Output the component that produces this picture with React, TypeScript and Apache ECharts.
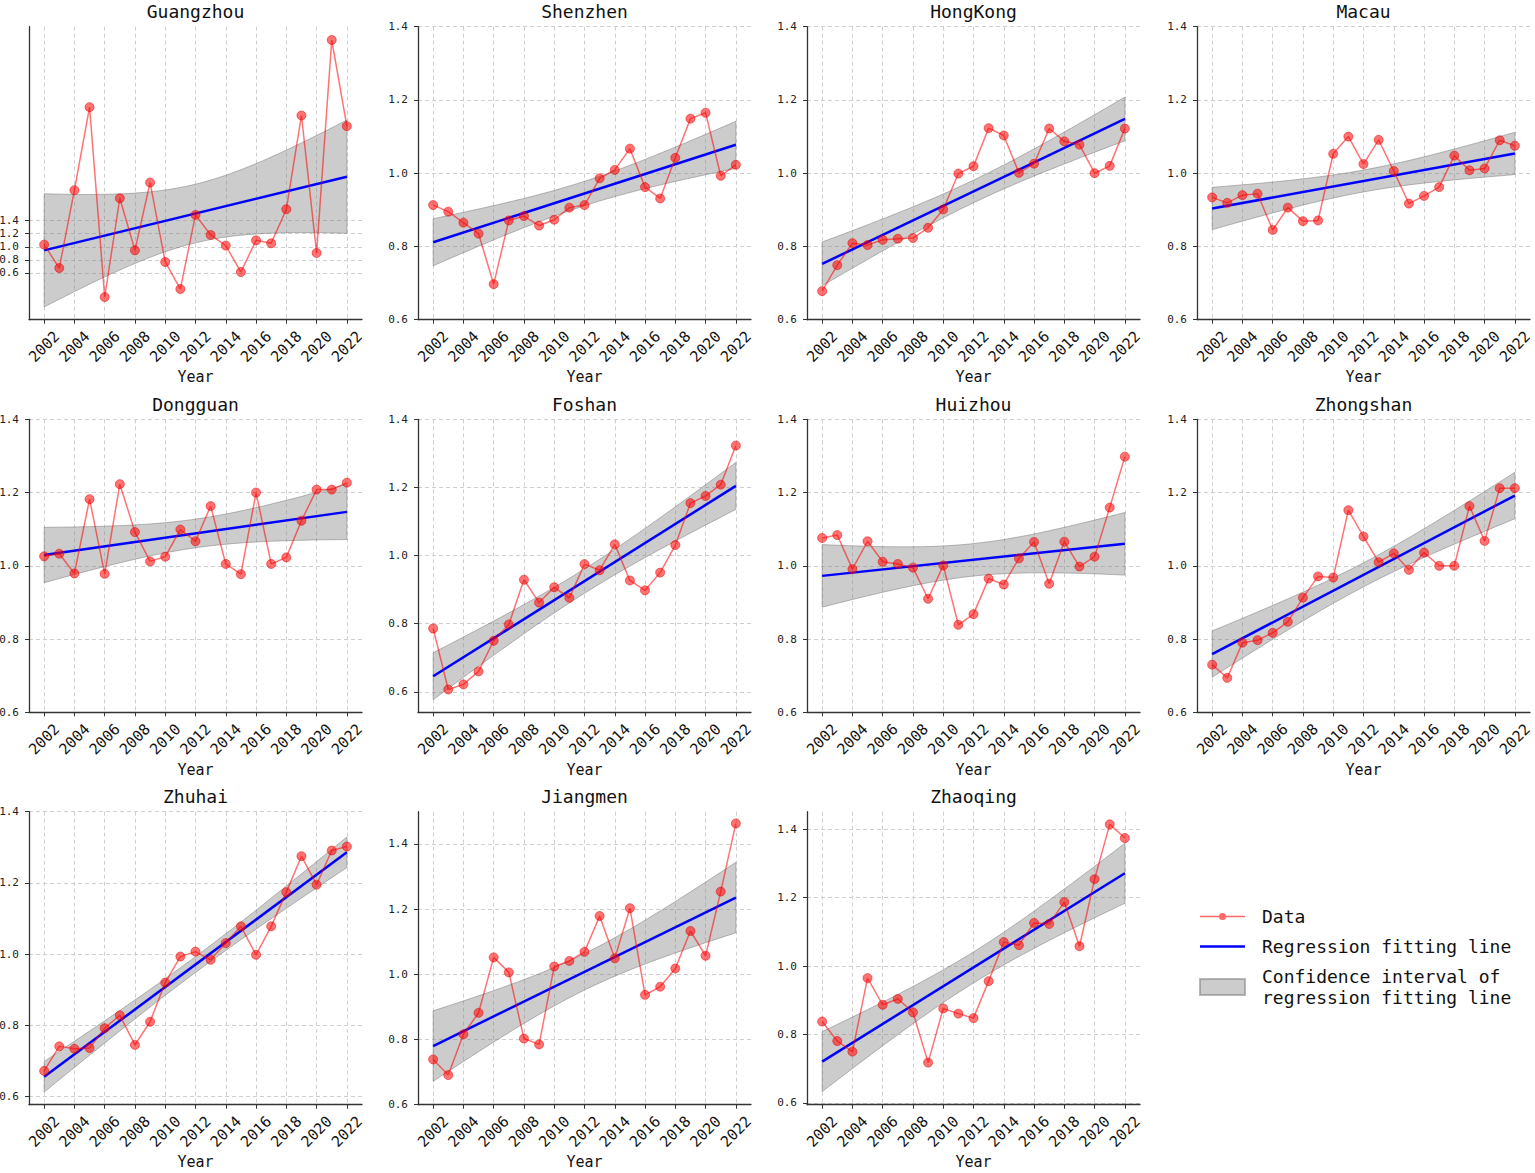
import React, { useEffect, useRef } from "react";
import * as echarts from "echarts";

const MONO = "DejaVu Sans Mono";

const YEARS = [2002, 2003, 2004, 2005, 2006, 2007, 2008, 2009, 2010, 2011, 2012, 2013, 2014, 2015, 2016, 2017, 2018, 2019, 2020, 2021, 2022];
const YEAR_TICKS = [2002, 2004, 2006, 2008, 2010, 2012, 2014, 2016, 2018, 2020, 2022];
const Y_TICKS = [0.6, 0.8, 1.0, 1.2, 1.4];

const CITIES = ["Guangzhou", "Shenzhen", "HongKong", "Macau", "Dongguan", "Foshan", "Huizhou", "Zhongshan", "Zhuhai", "Jiangmen", "Zhaoqing"];

// values, one per year 2002..2022
const GUANGZHOU = [1.033, 0.676, 1.864, 3.132, 0.233, 1.741, 0.946, 1.981, 0.768, 0.355, 1.487, 1.181, 1.018, 0.615, 1.099, 1.054, 1.573, 3.005, 0.906, 4.157, 2.842];
const SHENZHEN = [0.913, 0.895, 0.865, 0.835, 0.697, 0.871, 0.883, 0.857, 0.873, 0.906, 0.913, 0.986, 1.009, 1.067, 0.962, 0.931, 1.042, 1.149, 1.165, 0.993, 1.023];
const HONGKONG = [0.678, 0.749, 0.809, 0.804, 0.818, 0.821, 0.823, 0.851, 0.901, 0.999, 1.019, 1.123, 1.103, 1.001, 1.026, 1.122, 1.087, 1.078, 1.0, 1.02, 1.122];
const MACAU = [0.934, 0.919, 0.94, 0.944, 0.845, 0.906, 0.869, 0.871, 1.053, 1.1, 1.025, 1.091, 1.006, 0.917, 0.938, 0.962, 1.048, 1.008, 1.013, 1.09, 1.075];
const DONGGUAN = [1.026, 1.033, 0.979, 1.182, 0.978, 1.223, 1.092, 1.012, 1.025, 1.099, 1.067, 1.163, 1.005, 0.977, 1.2, 1.005, 1.023, 1.123, 1.208, 1.208, 1.227];
const FOSHAN = [0.786, 0.607, 0.622, 0.66, 0.75, 0.798, 0.929, 0.862, 0.907, 0.876, 0.975, 0.957, 1.033, 0.927, 0.898, 0.95, 1.031, 1.154, 1.175, 1.208, 1.323];
const HUIZHOU = [1.076, 1.084, 0.991, 1.067, 1.011, 1.005, 0.995, 0.91, 1.001, 0.839, 0.868, 0.965, 0.949, 1.02, 1.065, 0.951, 1.066, 0.998, 1.025, 1.159, 1.298];
const ZHONGSHAN = [0.73, 0.694, 0.79, 0.797, 0.817, 0.847, 0.913, 0.971, 0.968, 1.152, 1.08, 1.01, 1.034, 0.989, 1.036, 1.0, 1.0, 1.163, 1.068, 1.212, 1.212];
const ZHUHAI = [0.672, 0.741, 0.734, 0.736, 0.792, 0.828, 0.745, 0.81, 0.92, 0.993, 1.007, 0.984, 1.031, 1.078, 0.998, 1.078, 1.174, 1.275, 1.195, 1.291, 1.302];
const JIANGMEN = [0.739, 0.691, 0.816, 0.882, 1.052, 1.006, 0.803, 0.785, 1.024, 1.041, 1.069, 1.179, 1.049, 1.203, 0.937, 0.962, 1.018, 1.133, 1.057, 1.254, 1.463];
const ZHAOQING = [0.838, 0.781, 0.75, 0.965, 0.887, 0.904, 0.865, 0.718, 0.876, 0.861, 0.848, 0.956, 1.07, 1.061, 1.126, 1.123, 1.187, 1.058, 1.254, 1.414, 1.374];

const CITY_VALUES = [GUANGZHOU, SHENZHEN, HONGKONG, MACAU, DONGGUAN, FOSHAN, HUIZHOU, ZHONGSHAN, ZHUHAI, JIANGMEN, ZHAOQING];

// y-axis limits per panel
const Y_MIN = [-0.113, 0.6, 0.6, 0.6, 0.6, 0.54, 0.6, 0.6, 0.577, 0.6, 0.595];
const Y_MAX = [4.36, 1.4, 1.4, 1.4, 1.4, 1.4, 1.4, 1.4, 1.4, 1.499, 1.451];

const DATA_NAME = "Data";
const FIT_NAME = "Regression fitting line";
const CI_NAME = "Confidence interval of\nregression fitting line";

// legend icons: short line with a dot, plain line (the leading moves keep the 45x16 box)
const DATA_ICON =
  "path://M0,0M0,16M0,7.25L19,7.25L19,8.75L0,8.75ZM26,7.25L45,7.25L45,8.75L26,8.75ZM26,8A3.5,3.5,0,1,1,19,8A3.5,3.5,0,1,1,26,8Z";
const FIT_ICON = "path://M0,0M0,16M0,6.75L45,6.75L45,9.25L0,9.25Z";

const GRID_LEFT = [29, 418, 807, 1197];
const GRID_TOP = [26.7, 419.3, 811.7];
const GRID_W = 333;
const GRID_H = 293;

const T_975_DF19 = 2.093;

// ordinary least squares with a 95% confidence band for the mean
function regress(ys: number[]) {
  const n = ys.length;
  const mx = YEARS.reduce((s, x) => s + x, 0) / n;
  const my = ys.reduce((s, y) => s + y, 0) / n;
  let sxx = 0;
  let sxy = 0;
  YEARS.forEach((x, i) => {
    sxx += (x - mx) * (x - mx);
    sxy += (x - mx) * (ys[i] - my);
  });
  const b = sxy / sxx;
  const a = my - b * mx;
  let sse = 0;
  YEARS.forEach((x, i) => {
    const r = ys[i] - (a + b * x);
    sse += r * r;
  });
  const s = Math.sqrt(sse / (n - 2));
  const upper: number[][] = [];
  const lower: number[][] = [];
  const x0 = YEARS[0];
  const x1 = YEARS[n - 1];
  for (let k = 0; k <= 80; k++) {
    const x = x0 + ((x1 - x0) * k) / 80;
    const yh = a + b * x;
    const h = T_975_DF19 * s * Math.sqrt(1 / n + ((x - mx) * (x - mx)) / sxx);
    upper.push([x, yh + h]);
    lower.push([x, yh - h]);
  }
  return { line: [[x0, a + b * x0], [x1, a + b * x1]], upper, lower };
}

export default function App() {
  const chartRef = useRef<HTMLDivElement>(null);

  useEffect(() => {
    document.body.style.margin = "0";
    if (!chartRef.current) return;
    const chart = echarts.init(chartRef.current, undefined, { renderer: "svg" });

    const grids: any[] = [];
    const xAxes: any[] = [];
    const yAxes: any[] = [];
    const titles: any[] = [];
    const series: any[] = [];

    CITIES.forEach((city, i) => {
      const row = Math.floor(i / 4);
      const col = i % 4;
      grids.push({
        left: GRID_LEFT[col],
        top: GRID_TOP[row],
        width: GRID_W,
        height: GRID_H,
        containLabel: false,
        outerBoundsMode: "none",
      });
      titles.push({
        text: city,
        left: GRID_LEFT[col] + GRID_W / 2,
        top: GRID_TOP[row] - 24,
        textAlign: "center",
        padding: 0,
        textStyle: { fontFamily: MONO, fontSize: 18, fontWeight: "normal", color: "#111" },
      });
      xAxes.push({
        gridIndex: i,
        type: "value",
        min: 2001,
        max: 2023,
        name: "Year",
        nameLocation: "middle",
        nameGap: 50,
        nameMoveOverlap: false,
        nameTextStyle: { fontFamily: MONO, fontSize: 15, color: "#111" },
        axisLine: { show: true, onZero: false, lineStyle: { color: "#333", width: 1.3 } },
        axisTick: { show: true, length: 4, customValues: YEAR_TICKS, lineStyle: { color: "#333" } },
        axisLabel: {
          customValues: YEAR_TICKS,
          rotate: 45,
          align: "center",
          verticalAlign: "middle",
          margin: 27,
          fontFamily: MONO,
          fontSize: 15,
          color: "#111",
          formatter: (v: number) => String(v),
        },
        splitLine: { show: true, lineStyle: { color: "#cfcfcf", type: [4, 3], width: 1 } },
      });
      yAxes.push({
        gridIndex: i,
        type: "value",
        min: Y_MIN[i],
        max: Y_MAX[i],
        axisLine: { show: true, onZero: false, lineStyle: { color: "#333", width: 1.3 } },
        axisTick: { show: true, length: 4, customValues: Y_TICKS, lineStyle: { color: "#333" } },
        axisLabel: {
          customValues: Y_TICKS,
          margin: 10,
          fontFamily: MONO,
          fontSize: 11,
          color: "#222",
          formatter: (v: number) => v.toFixed(1),
        },
        splitLine: { show: true, lineStyle: { color: "#cfcfcf", type: [4, 3], width: 1 } },
      });

      const values = CITY_VALUES[i];
      const fit = regress(values);

      series.push({
        name: CI_NAME,
        type: "custom",
        xAxisIndex: i,
        yAxisIndex: i,
        z: 1,
        silent: true,
        itemStyle: { color: "rgba(128,128,128,0.4)", borderColor: "rgba(128,128,128,0.55)", borderWidth: 1 },
        data: [[YEARS[10], values[10]]],
        renderItem: (_params: any, api: any) => {
          const pts = fit.upper.map((p) => api.coord(p));
          for (let k = fit.lower.length - 1; k >= 0; k--) pts.push(api.coord(fit.lower[k]));
          return {
            type: "polygon",
            shape: { points: pts },
            style: { fill: "rgba(128,128,128,0.4)", stroke: "rgba(128,128,128,0.55)", lineWidth: 1 },
          };
        },
      });
      series.push({
        name: FIT_NAME,
        type: "line",
        xAxisIndex: i,
        yAxisIndex: i,
        z: 2,
        symbol: "none",
        silent: true,
        data: fit.line,
        lineStyle: { color: "#0000ff", width: 2.5 },
        itemStyle: { color: "#0000ff" },
      });
      series.push({
        name: DATA_NAME,
        type: "line",
        xAxisIndex: i,
        yAxisIndex: i,
        z: 3,
        symbol: "circle",
        symbolSize: 9,
        showAllSymbol: true,
        silent: true,
        data: YEARS.map((y, j) => [y, values[j]]),
        lineStyle: { color: "rgba(255,0,0,0.55)", width: 1.5 },
        itemStyle: { color: "rgba(255,0,0,0.55)", borderColor: "rgba(230,0,0,0.5)", borderWidth: 1 },
      });
    });

    chart.setOption({
      animation: false,
      backgroundColor: "#ffffff",
      textStyle: { fontFamily: MONO },
      title: titles,
      grid: grids,
      xAxis: xAxes,
      yAxis: yAxes,
      legend: {
        left: 1194,
        top: 901,
        orient: "vertical",
        itemWidth: 45,
        itemHeight: 16,
        itemGap: 9,
        selectedMode: false,
        textStyle: { fontFamily: MONO, fontSize: 18, color: "#111", lineHeight: 21, padding: [0, 0, 0, 12] },
        data: [
          { name: DATA_NAME, icon: DATA_ICON, itemStyle: { color: "rgba(255,0,0,0.6)", borderWidth: 0 } },
          { name: FIT_NAME, icon: FIT_ICON, itemStyle: { color: "#0000ff", borderWidth: 0 } },
          { name: CI_NAME, icon: "rect" },
        ],
      },
      series,
    });

    return () => {
      chart.dispose();
    };
  }, []);

  return <div ref={chartRef} style={{ width: 1535, height: 1173 }} />;
}
